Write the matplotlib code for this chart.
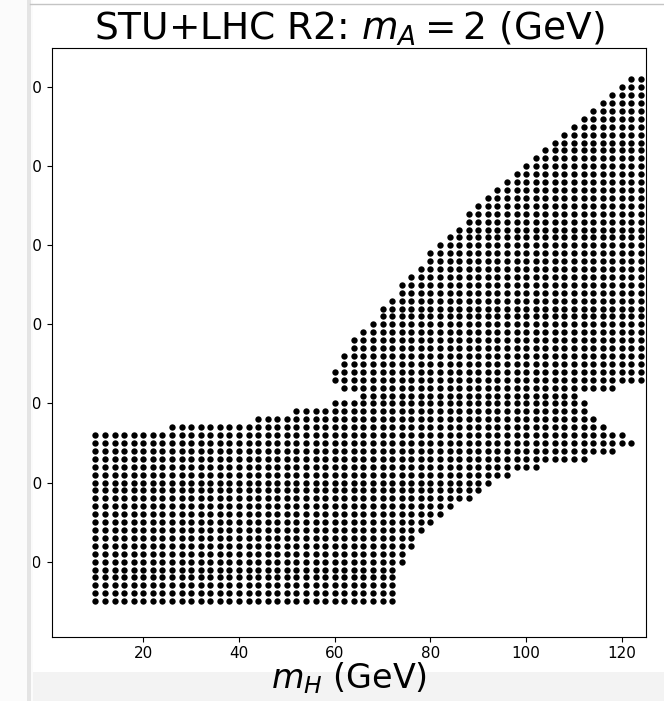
import matplotlib
matplotlib.use("Agg")
import matplotlib.pyplot as plt
import numpy as np
from matplotlib.patches import Rectangle
from matplotlib.lines import Line2D

# allowed points lie on a 2 GeV grid; each row of m_Hpm is stored as [x_min, x_max] in m_H
y_vals = list(range(10, 144, 2))

x_min = [10] * 22 + [26, 44, 52, 60, 66, 62, 60, 60, 62, 62, 64, 64, 66, 68, 70, 70,
                     72, 74, 74, 76, 78, 80, 80, 82, 84, 86, 88, 88, 90,
                     92, 94, 96, 98, 100, 102, 104, 106, 108, 110, 112, 114, 116,
                     118, 120, 122]

x_max = [72, 72, 72, 72, 72, 74, 74, 76, 76, 78, 80, 82, 84, 88, 90, 92, 96, 102,
         112, 118, 122, 120, 116, 114, 112, 112, 110, 118] + [124] * 39

xs, ys = [], []
for y, lo, hi in zip(y_vals, x_min, x_max):
    for x in range(lo, hi + 1, 2):
        xs.append(x)
        ys.append(y)

fig = plt.figure(figsize=(6.64, 7.01), dpi=100)
ax = fig.add_axes([0.0788, 0.0917, 0.9725 - 0.0788, 0.932 - 0.0917])
ax.scatter(xs, ys, s=21, c='black', linewidths=0)

ax.set_xlim(1, 125)
ax.set_ylim(1, 150)
ax.set_xticks([20, 40, 60, 80, 100, 120])
ax.set_yticks([20, 40, 60, 80, 100, 120, 140])
ax.tick_params(labelsize=11)
ax.set_title(r'STU+LHC R2: $m_A = 2$ (GeV)', fontsize=27)
ax.set_xlabel(r'$m_H$ (GeV)', fontsize=24, labelpad=-0.5)

# screenshot edges
W, H = 664, 701
fig.add_artist(Rectangle((0, 0), 32.5 / W, 1, transform=fig.transFigure,
                         facecolor='#fbfbfb', edgecolor='none', zorder=10))
fig.add_artist(Rectangle((27 / W, 0), 3.5 / W, 1, transform=fig.transFigure,
                         facecolor='#e4e4e4', edgecolor='none', zorder=11))
fig.add_artist(Line2D([30 / W, 1], [1 - 3.5 / H, 1 - 3.5 / H], transform=fig.transFigure,
                      color='#c4c4c4', lw=1, zorder=11))
fig.add_artist(Rectangle((0, 0), 1, 29 / H, transform=fig.transFigure,
                         facecolor='#f3f3f3', edgecolor='none', zorder=-1))

fig.savefig('out.png', dpi=100)
